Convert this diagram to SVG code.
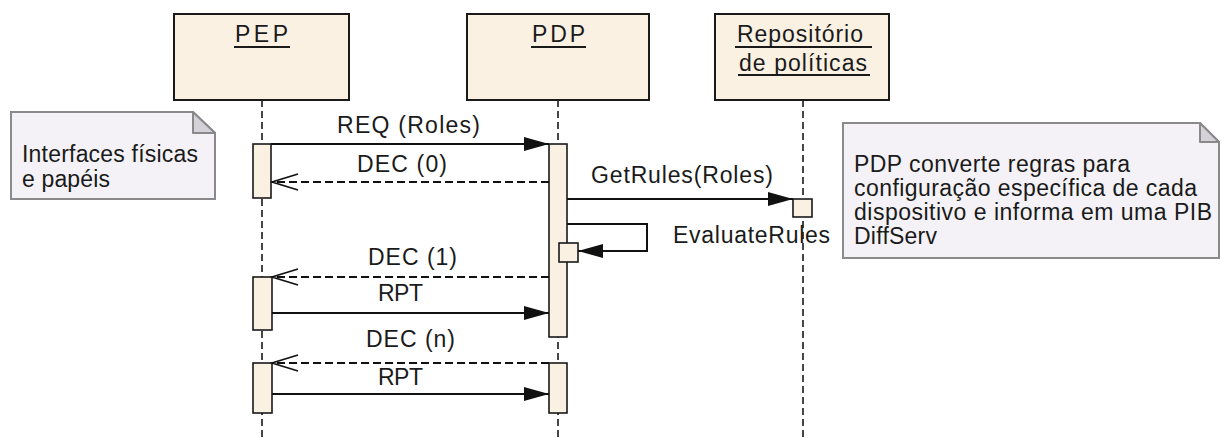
<svg xmlns="http://www.w3.org/2000/svg" width="1221" height="438" viewBox="0 0 1221 438">
<style>
.box{fill:#fbf1e3;stroke:#1a1a1a;stroke-width:2}
.act{fill:#fbf1e3;stroke:#1a1a1a;stroke-width:1.6}
.life{stroke:#1a1a1a;stroke-width:1.6;stroke-dasharray:7 4;fill:none}
.ul{stroke:#1a1a1a;stroke-width:2}
.msg{stroke:#111;stroke-width:2;fill:none}
.ret{stroke:#111;stroke-width:1.8;fill:none;stroke-dasharray:8 4}
.note{fill:#f4f2f6;stroke:#8a8a8a;stroke-width:2}
.fold{fill:#d4d2d8;stroke:#8a8a8a;stroke-width:2;stroke-linejoin:round}
text{font-family:"Liberation Sans",Arial,sans-serif;font-size:23px;fill:#1a1a1a}
</style>
<defs>
<marker id="solid" markerUnits="userSpaceOnUse" viewBox="0 0 25 14" refX="25" refY="7" markerWidth="25" markerHeight="14" orient="auto">
<path d="M0,0 L25,7 L0,14 z" fill="#111"/>
</marker>
<marker id="open" markerUnits="userSpaceOnUse" viewBox="-2 -2 30 20" refX="26" refY="8" markerWidth="30" markerHeight="20" orient="auto">
<path d="M0,0 L26,8 L0,16" fill="none" stroke="#111" stroke-width="1.8"/>
</marker>
</defs>

<g id="PEP">
<rect class="box" x="174" y="14" width="175" height="86"/>
<text x="235" y="42" textLength="53" lengthAdjust="spacing">PEP</text>
<line class="ul" x1="234" y1="47" x2="290" y2="47"/>
<line class="life" x1="262" y1="100" x2="262" y2="438"/>
<rect class="act" x="253" y="144" width="18" height="54"/>
<rect class="act" x="253" y="277" width="19" height="53"/>
<rect class="act" x="253" y="363" width="19" height="50"/>
</g>

<g id="PDP">
<rect class="box" x="467" y="14" width="182" height="86"/>
<text x="532" y="42" textLength="53" lengthAdjust="spacing">PDP</text>
<line class="ul" x1="531" y1="47" x2="586" y2="47"/>
<line class="life" x1="558" y1="100" x2="558" y2="438"/>
<rect class="act" x="549" y="144" width="18" height="193"/>
<rect class="act" x="559" y="243" width="19" height="19"/>
<rect class="act" x="549" y="363" width="18" height="50"/>
</g>

<g id="Repositorio">
<rect class="box" x="715" y="14" width="174" height="86"/>
<text x="737" y="42" textLength="126" lengthAdjust="spacing">Repositório</text>
<line class="ul" x1="735" y1="47" x2="872" y2="47"/>
<text x="739" y="71" textLength="128" lengthAdjust="spacing">de políticas</text>
<line class="ul" x1="738" y1="75" x2="870" y2="75"/>
<line class="life" x1="803" y1="100" x2="803" y2="438"/>
<rect class="act" x="793" y="199" width="19" height="18"/>
</g>

<g id="note-interfaces">
<path class="note" d="M11,112 L193,112 L215,133 L215,199 L11,199 z"/>
<path class="fold" d="M193,112 L193,133 L215,133 z"/>
<text x="22" y="162" textLength="176" lengthAdjust="spacing">Interfaces físicas</text>
<text x="22" y="187" textLength="88" lengthAdjust="spacing">e papéis</text>
</g>

<g id="note-pdp">
<path class="note" d="M843,123 L1200,123 L1219,142 L1219,258 L843,258 z"/>
<path class="fold" d="M1200,123 L1200,142 L1219,142 z"/>
<text x="854" y="172" textLength="276" lengthAdjust="spacing">PDP converte regras para</text>
<text x="854" y="196" textLength="343" lengthAdjust="spacing">configuração específica de cada</text>
<text x="854" y="220" textLength="358" lengthAdjust="spacing">dispositivo e informa em uma PIB</text>
<text x="854" y="244" textLength="83" lengthAdjust="spacing">DiffServ</text>
</g>

<g id="connectors">
<line class="msg" x1="271" y1="144" x2="549" y2="144" marker-end="url(#solid)"/>
<text x="337" y="133" textLength="143" lengthAdjust="spacing">REQ (Roles)</text>
<line class="ret" x1="549" y1="182" x2="272" y2="182" marker-end="url(#open)"/>
<text x="357" y="172" textLength="90" lengthAdjust="spacing">DEC (0)</text>
<line class="msg" x1="567" y1="199" x2="793" y2="199" marker-end="url(#solid)"/>
<text x="591" y="183" textLength="182" lengthAdjust="spacing">GetRules(Roles)</text>
<path class="msg" d="M567,224 L647,224 L647,251 L578,251" marker-end="url(#solid)"/>
<text x="673" y="243" textLength="157" lengthAdjust="spacing">EvaluateRules</text>
<line class="ret" x1="549" y1="277" x2="272" y2="277" marker-end="url(#open)"/>
<text x="368" y="265" textLength="89" lengthAdjust="spacing">DEC (1)</text>
<line class="msg" x1="272" y1="313" x2="549" y2="313" marker-end="url(#solid)"/>
<text x="378" y="301" textLength="45" lengthAdjust="spacing">RPT</text>
<line class="ret" x1="549" y1="363" x2="272" y2="363" marker-end="url(#open)"/>
<text x="366" y="347" textLength="89" lengthAdjust="spacing">DEC (n)</text>
<line class="msg" x1="272" y1="394" x2="549" y2="394" marker-end="url(#solid)"/>
<text x="378" y="385" textLength="45" lengthAdjust="spacing">RPT</text>
</g>
</svg>
